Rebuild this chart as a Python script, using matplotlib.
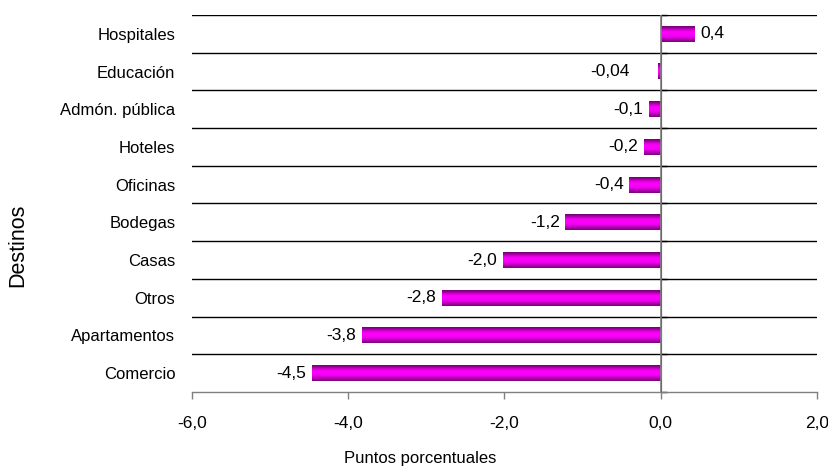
import matplotlib
matplotlib.use("Agg")
import matplotlib.pyplot as plt
import numpy as np
from matplotlib.colors import LinearSegmentedColormap

plt.rcParams['font.family'] = ['Liberation Sans', 'DejaVu Sans']

categories = ["Hospitales", "Educación", "Admón. pública", "Hoteles", "Oficinas",
              "Bodegas", "Casas", "Otros", "Apartamentos", "Comercio"]
values = [0.43, -0.04, -0.15, -0.22, -0.4, -1.22, -2.02, -2.8, -3.83, -4.47]
value_labels = ["0,4", "-0,04", "-0,1", "-0,2", "-0,4", "-1,2", "-2,0", "-2,8", "-3,8", "-4,5"]
xticks = [-6, -4, -2, 0, 2]
xtick_labels = ["-6,0", "-4,0", "-2,0", "0,0", "2,0"]

# label offsets (points) - styling only
label_offsets = [4, 20, 4, 4, 4, 4, 4, 4, 4, 4]

fig = plt.figure(figsize=(8.29, 4.68), dpi=100)
ax = fig.add_axes([192/829, 1-392/468, (817-192)/829, (392-15)/468])

n = len(categories)
ypos = np.arange(n)[::-1]  # first category at top
bar_h = 0.42

cmap = LinearSegmentedColormap.from_list(
    "mag", [(0.0, "#6e006e"), (0.3, "#ee00ee"), (0.45, "#ff00ff"),
            (0.65, "#f000f0"), (1.0, "#7a007a")])
grad = np.linspace(0, 1, 64).reshape(-1, 1)

bars = ax.barh(ypos, values, height=bar_h, color="none", edgecolor="none", zorder=3)
for b in bars:
    x0, y0 = b.get_x(), b.get_y()
    w, h = b.get_width(), b.get_height()
    ax.imshow(grad, cmap=cmap, aspect="auto", origin="upper",
              extent=[x0, x0 + w, y0, y0 + h], zorder=3, interpolation="bilinear")

for y, v, lab, off in zip(ypos, values, value_labels, label_offsets):
    if v >= 0:
        ax.annotate(lab, (v, y), xytext=(off, 0), textcoords="offset points",
                    ha="left", va="center", fontsize=12.5, color="black")
    else:
        ax.annotate(lab, (v, y), xytext=(-off, 0), textcoords="offset points",
                    ha="right", va="center", fontsize=12.5, color="black")

ax.set_xlim(-6, 2)
ax.set_ylim(-0.5, n - 0.5)

# horizontal separators between categories
for k in range(n):
    ax.axhline(k + 0.5, color="black", lw=1.0, zorder=2)
ax.axvline(0, color="#808080", lw=1.2, zorder=4)

for s in ["top", "right", "left"]:
    ax.spines[s].set_visible(False)
ax.spines["bottom"].set_color("#808080")
ax.spines["bottom"].set_linewidth(1.0)

ax.set_xticks(xticks)
ax.set_xticklabels(xtick_labels, fontsize=12.5)
ax.tick_params(axis="x", direction="out", length=5, width=1, color="#808080", pad=12)

ax.set_yticks(ypos)
ax.set_yticklabels(categories, fontsize=12)
ax.tick_params(axis="y", length=0, pad=12)

# small category-boundary ticks on the zero line
zero_frac = (0 - xticks[0]) / (xticks[-1] - xticks[0])
sec = ax.secondary_yaxis(zero_frac)
sec.set_yticks(np.arange(-0.5, n, 1.0))
sec.set_yticklabels([])
sec.tick_params(direction="out", length=4, width=1, color="black")
sec.spines["left"].set_visible(False)

fig.text(18/829, 1-245/468, "Destinos", rotation=90, ha="center", va="center", fontsize=15.5)
fig.text(420/829, 1-458/468, "Puntos porcentuales", ha="center", va="center", fontsize=12)

fig.savefig("out.png", dpi=100)
